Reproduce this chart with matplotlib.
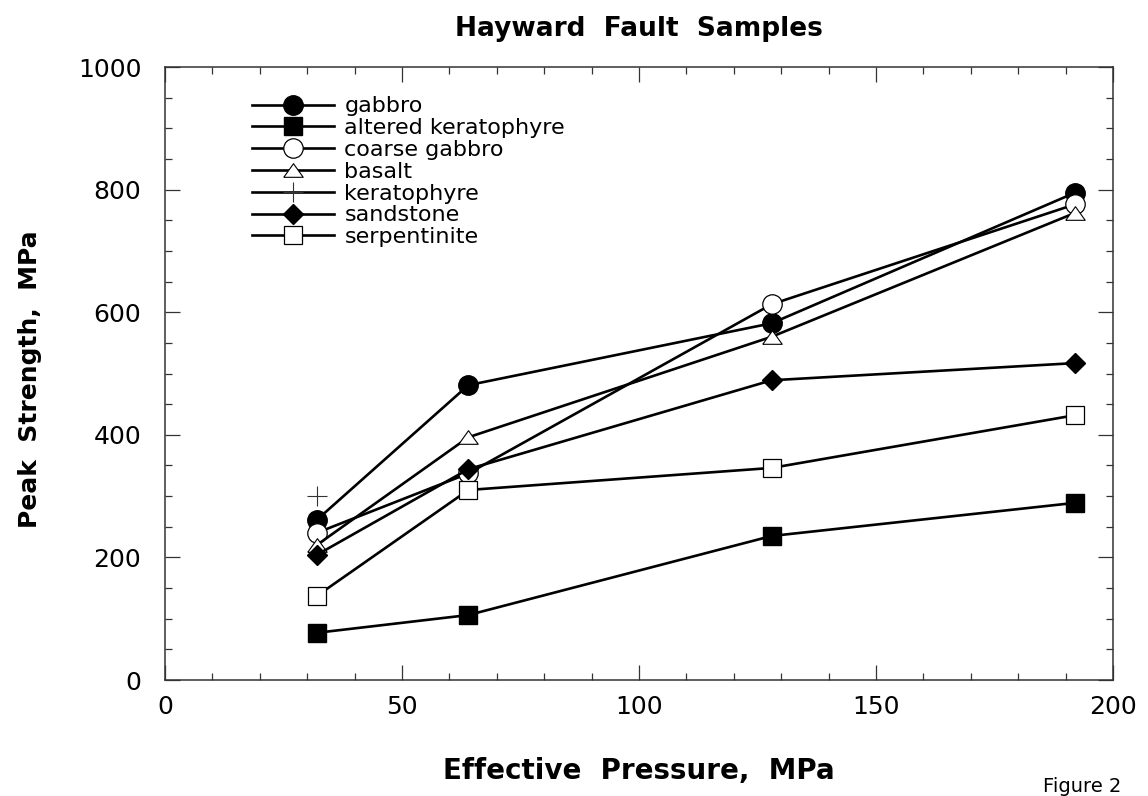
import matplotlib
matplotlib.use('Agg')
import matplotlib.pyplot as plt
from matplotlib.ticker import MultipleLocator

plt.rcParams['font.family'] = ['DejaVu Sans']

# effective pressure steps (MPa)
pressure = [32, 64, 128, 192]

gabbro = [261, 481, 582, 795]
altered_keratophyre = [77, 106, 235, 289]
coarse_gabbro = [240, 337, 613, 776]
basalt = [220, 396, 560, 762]
keratophyre_p = [32]
keratophyre = [300]
sandstone = [204, 344, 489, 517]
serpentinite = [137, 310, 346, 432]

# flattened open triangle
tri = [(-1, -0.7), (1, -0.7), (0, 0.7), (-1, -0.7)]

fig = plt.figure(figsize=(11.48, 7.96), dpi=100)
ax = fig.add_axes([0.1437, 0.1457, 0.8258, 0.7701])

lw = 1.9
ax.plot(pressure, gabbro, '-', color='black', lw=lw, marker='o', ms=14,
        mfc='black', mec='black', label='gabbro')
ax.plot(pressure, altered_keratophyre, '-', color='black', lw=lw, marker='s', ms=13.5,
        mfc='black', mec='black', label='altered keratophyre')
ax.plot(pressure, coarse_gabbro, '-', color='black', lw=lw, marker='o', ms=14,
        mfc='white', mec='black', mew=0.9, label='coarse gabbro')
ax.plot(pressure, basalt, '-', color='black', lw=lw, marker=tri, ms=14,
        mfc='white', mec='black', mew=0.8, label='basalt')
ax.plot(keratophyre_p, keratophyre, '-', color='black', lw=lw, marker='+', ms=14,
        mec='#333333', mew=0.8, label='keratophyre')
ax.plot(pressure, sandstone, '-', color='black', lw=lw, marker='D', ms=9.8,
        mfc='black', mec='black', label='sandstone')
ax.plot(pressure, serpentinite, '-', color='black', lw=lw, marker='s', ms=13.5,
        mfc='white', mec='black', mew=0.9, label='serpentinite')

ax.set_xlim(0, 200)
ax.set_ylim(0, 1000)
ax.xaxis.set_major_locator(MultipleLocator(50))
ax.xaxis.set_minor_locator(MultipleLocator(10))
ax.yaxis.set_major_locator(MultipleLocator(200))
ax.yaxis.set_minor_locator(MultipleLocator(50))
ax.tick_params(which='both', direction='in', top=True, right=True,
               labelsize=18, color='#333333')
ax.tick_params(which='major', length=10.5, width=0.9)
ax.tick_params(which='minor', length=5, width=0.9)
ax.tick_params(axis='y', pad=17)
ax.tick_params(axis='x', pad=11)
for sp in ax.spines.values():
    sp.set_linewidth(1.1)
    sp.set_color('#333333')

ax.set_title('Hayward  Fault  Samples', fontsize=19, fontweight='bold', y=1.05, pad=0)
ax.set_xlabel('Effective  Pressure,  MPa', fontsize=20, fontweight='bold')
ax.xaxis.set_label_coords(0.5, -0.125)
ax.set_ylabel('Peak  Strength,  MPa', fontsize=18, fontweight='bold')
ax.yaxis.set_label_coords(-0.13, 0.49)

leg = ax.legend(loc='upper left', bbox_to_anchor=(0.092, 0.952), frameon=False,
                fontsize=16, numpoints=1, handlelength=3.7, handletextpad=0.45,
                labelspacing=0.08, borderpad=0, borderaxespad=0)

fig.text(0.943, 0.0, 'Figure 2', fontsize=14, ha='center', va='bottom')

fig.savefig('out.png', dpi=100)
